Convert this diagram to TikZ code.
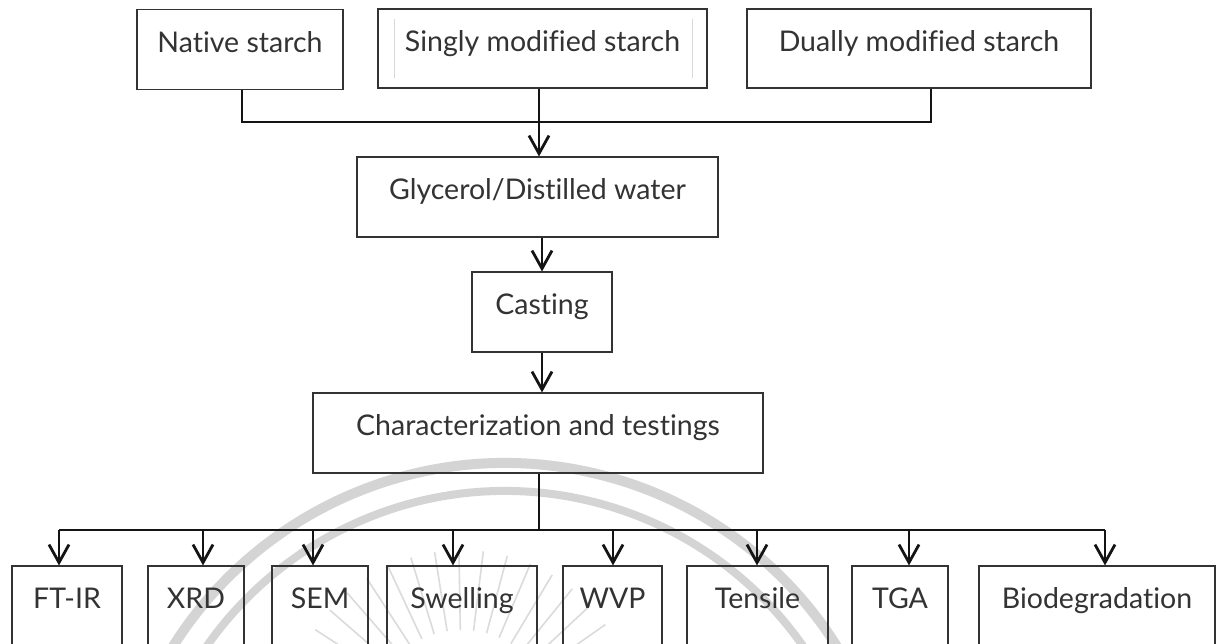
\documentclass[tikz,border=0pt]{standalone}
\usepackage{fontspec}
\setmainfont[Ligatures=NoCommon]{Lato}
\usetikzlibrary{arrows.meta}
\begin{document}
\begin{tikzpicture}[x=1pt,y=-1pt,
  box/.style={draw=black!80, line width=1.1pt, inner sep=0pt, minimum height=80pt,
    font=\fontsize{28.5}{31}\selectfont, text=black!80, text height=0.72em, text depth=0.2em},
  conn/.style={line width=2.8pt, draw=black!92},
  arr/.style={-{Straight Barb[length=18pt,width=20pt]}},
  wm/.style={draw=black!17, line width=10pt},
  ray/.style={draw=black!14, line width=1.6pt},
  faint/.style={draw=black!15, line width=0.8pt}]
\useasboundingbox (0,0) rectangle (1224,644);
\clip (0,0) rectangle (1224,644);
\fill[white] (0,0) rectangle (1224,644);
% watermark
\draw[wm] (505,855) ++(195:392) arc[start angle=195,end angle=345,radius=392];
\draw[wm, line width=8pt] (505,855) ++(195:364) arc[start angle=195,end angle=345,radius=364];
\foreach \a in {205,213,...,335} {
  \draw[ray] (462,725) ++(\a:95) -- ++(\a:80);
}
% top row
\node[box, minimum width=206pt] (native) at (240,49.5) {Native starch};
\node[box, minimum width=329pt, minimum height=79pt] (singly) at (542.5,48.5) {Singly modified starch};
\node[box, minimum width=344pt, minimum height=79pt] (dually) at (919,48.5) {Dually modified starch};
\draw[faint] (394,19) -- (394,78);
\draw[faint] (692,19) -- (692,78);
% middle
\node[box, minimum width=361pt] (glycerol) at (537.5,197) {Glycerol/Distilled water};
\node[box, minimum width=140pt] (casting) at (542,312) {Casting};
\node[box, minimum width=450pt] (char) at (538,433) {Characterization and testings};
% bottom row
\node[box, minimum width=110pt] (ftir) at (67,606) {FT-IR};
\node[box, minimum width=96pt] (xrd) at (196,606) {XRD};
\node[box, minimum width=96pt] (sem) at (320,606) {SEM};
\node[box, minimum width=150pt] (swell) at (462,606) {Swelling};
\node[box, minimum width=99pt] (wvp) at (612.5,606) {WVP};
\node[box, minimum width=141pt] (tens) at (757.5,606) {Tensile};
\node[box, minimum width=96pt] (tga) at (900,606) {TGA};
\node[box, minimum width=236pt] (bio) at (1097,606) {Biodegradation};
% top connectors
\coordinate (n1) at (242,122);
\coordinate (s1) at (539,122);
\coordinate (d1) at (931,122);
\draw[conn] (native.south -| n1) -- (n1) -- (d1) -- (dually.south -| d1);
\draw[conn, arr] (singly.south -| s1) -- (glycerol.north -| s1);
\draw[conn, arr] (glycerol.south -| casting.north) -- (casting.north);
\draw[conn, arr] (casting.south) -- (casting.south |- char.north);
% bottom bus
\coordinate (c1) at (539,530);
\coordinate (b1) at (59,530);
\coordinate (b2) at (203,530);
\coordinate (b3) at (313,530);
\coordinate (b4) at (453,530);
\coordinate (b5) at (613,530);
\coordinate (b6) at (757,530);
\coordinate (b7) at (909,530);
\coordinate (b8) at (1105,530);
\draw[conn] (char.south -| c1) -- (c1);
\draw[conn] (b1) -- (b8);
\draw[conn, arr] (b1) -- (b1 |- ftir.north);
\draw[conn, arr] (b2) -- (b2 |- xrd.north);
\draw[conn, arr] (b3) -- (b3 |- sem.north);
\draw[conn, arr] (b4) -- (b4 |- swell.north);
\draw[conn, arr] (b5) -- (b5 |- wvp.north);
\draw[conn, arr] (b6) -- (b6 |- tens.north);
\draw[conn, arr] (b7) -- (b7 |- tga.north);
\draw[conn, arr] (b8) -- (b8 |- bio.north);
\end{tikzpicture}
\end{document}
